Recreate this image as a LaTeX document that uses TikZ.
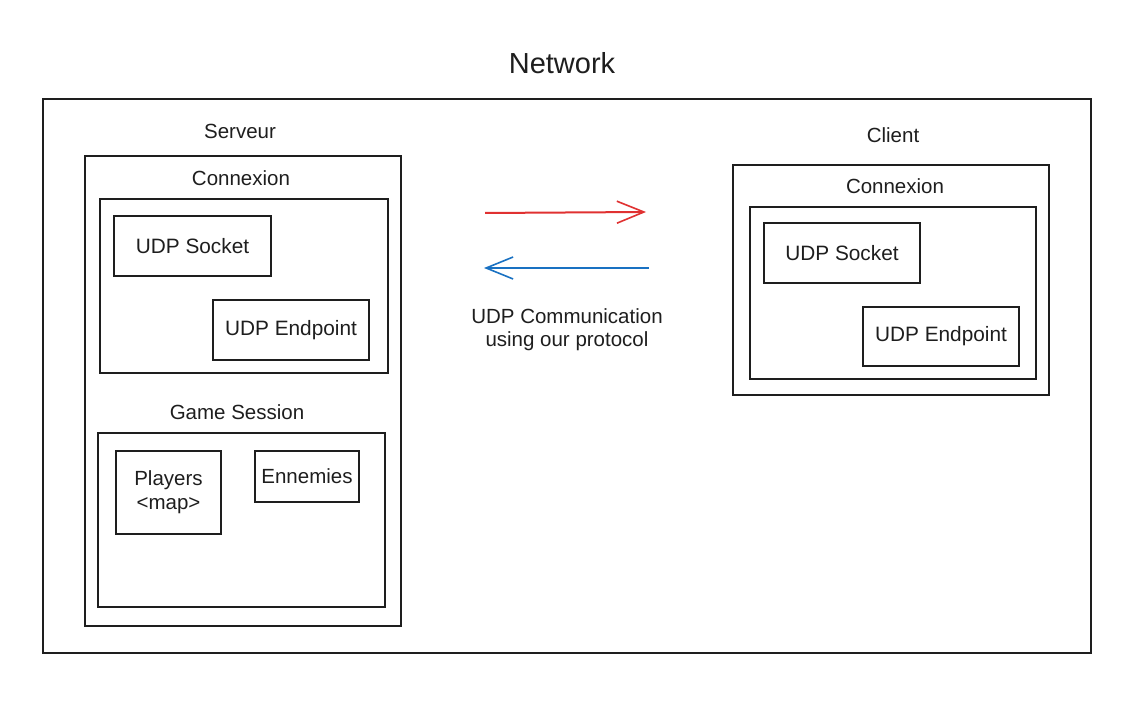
\documentclass[tikz,border=0pt]{standalone}
\usepackage{fontspec}
\setmainfont{Liberation Sans}
\usetikzlibrary{arrows.meta}
\definecolor{ink}{HTML}{1E1E1E}
\definecolor{redink}{HTML}{E03131}
\definecolor{blueink}{HTML}{1971C2}
\tikzset{
  box/.style={draw=ink, line width=1.4pt, rectangle, inner sep=0pt, font=\fontsize{20.8}{25}\selectfont, text=ink, align=center},
  lbl/.style={font=\fontsize{20.5}{23}\selectfont, text=ink, align=center, inner sep=0pt},
  flow/.style={line width=2pt, -{Straight Barb[length=27pt,width=22pt,line width=1.6pt]}},
}
\begin{document}
\begin{tikzpicture}[x=1pt,y=-1pt]
\useasboundingbox (0,0) rectangle (1143,714);
\node[lbl, font=\fontsize{29}{33}\selectfont] (title) at (562,63) {Network};
\node[box, minimum width=1048pt, minimum height=554pt] (net) at (567,376) {};
% server
\node[lbl] (srvl) at (240,131) {Serveur};
\node[box, minimum width=316pt, minimum height=470pt] (srv) at (243,391) {};
\node[lbl] (sconnl) at (241,178) {Connexion};
\node[box, minimum width=288pt, minimum height=174pt] (sconn) at (244,286) {};
\node[box, minimum width=157pt, minimum height=60pt] (ssock) at (192.5,246) {UDP Socket};
\node[box, minimum width=156pt, minimum height=60pt] (send) at (291,330) {UDP Endpoint};
\node[lbl] (sgamel) at (237,412) {Game Session};
\node[box, minimum width=287pt, minimum height=174pt] (sgame) at (241.5,520) {};
\node[box, minimum width=105pt, minimum height=83pt, font=\fontsize{20.5}{24}\selectfont] (play) at (168.5,492.5) {Players\\{<}map{>}};
\node[box, minimum width=104pt, minimum height=51pt, font=\fontsize{20.5}{24}\selectfont] (enn) at (307,476.5) {Ennemies};
% client
\node[lbl] (clil) at (893,135) {Client};
\node[box, minimum width=316pt, minimum height=230pt] (cli) at (891,280) {};
\node[lbl] (cconnl) at (895,186) {Connexion};
\node[box, minimum width=286pt, minimum height=172pt] (cconn) at (893,293) {};
\node[box, minimum width=156pt, minimum height=60pt] (csock) at (842,253) {UDP Socket};
\node[box, minimum width=156pt, minimum height=59pt] (cend) at (941,336.5) {UDP Endpoint};
% arrows
\coordinate (r1) at (485,213);
\coordinate (r2) at (646,212);
\coordinate (b1) at (649,268);
\coordinate (b2) at (484,268);
\draw[flow, redink] (r1) -- (r2);
\draw[flow, blueink] (b1) -- (b2);
\node[lbl] (comm) at (567,330) {UDP Communication\\using our protocol};
\end{tikzpicture}
\end{document}
